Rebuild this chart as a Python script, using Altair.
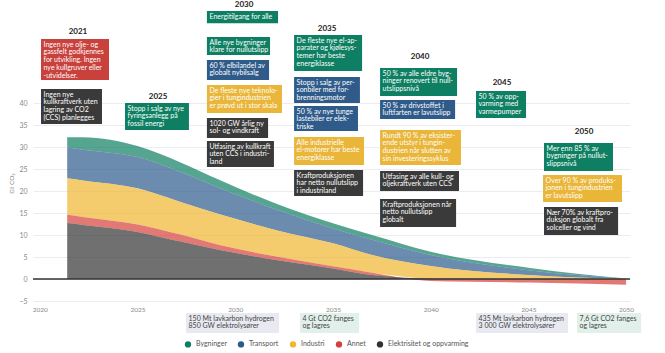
import altair as alt
import pandas as pd

# ---------------- data ----------------
years = [2021.4, 2022.2, 2025, 2027.2, 2029.2, 2032.1, 2035, 2037, 2040, 2045, 2050]
elektrisitet = [12.7, 12.3, 10.7, 8.5, 6.6, 4.3, 2.4, 0.9, 0.1, 0.0, 0.0]
annet = [1.9, 1.8, 1.7, 1.6, 1.1, 0.8, 0.5, 0.5, -0.45, -0.8, -1.3]
industri = [8.3, 8.3, 8.2, 7.4, 7.0, 6.0, 5.2, 4.05, 2.85, 0.9, 0.03]
transport = [7.0, 7.0, 7.1, 6.8, 6.0, 4.7, 3.4, 3.45, 2.5, 1.1, 0.04]
bygninger = [2.3, 2.8, 2.5, 2.2, 1.8, 1.3, 1.15, 1.1, 0.75, 0.55, 0.03]

sectors = ["Bygninger", "Transport", "Industri", "Annet", "Elektrisitet og oppvarming"]
sector_colors = ["#0e7f63", "#2c5a8d", "#f0b731", "#d6403a", "#333333"]
stack_order = {"Elektrisitet og oppvarming": 0, "Annet": 1, "Industri": 2,
               "Transport": 3, "Bygninger": 4}
series = {"Bygninger": bygninger, "Transport": transport, "Industri": industri,
          "Annet": annet, "Elektrisitet og oppvarming": elektrisitet}

x_ticks = [2020, 2025, 2030, 2035, 2040, 2045, 2050]
y_ticks = [-5, 0, 5, 10, 15, 20, 25, 30, 35, 40]

# milestone years (title, x, y)
milestone_years = ["2021", "2025", "2030", "2035", "2040", "2045", "2050"]
milestone_x = [2021.95, 2026.05, 2030.45, 2034.7, 2039.46, 2043.65, 2047.85]
milestone_y = [56.2, 41.43, 62.27, 56.82, 50.52, 44.48, 33.48]

# milestone boxes: (x1, y_top, x2, y_bottom, kind, text)
box_x1 = [2020.06, 2020.06, 2024.36,
          2028.55, 2028.55, 2028.55, 2028.55, 2028.55, 2028.55,
          2033.01, 2033.01, 2033.01, 2033.01, 2033.01,
          2037.41, 2037.41, 2037.41, 2037.41, 2037.41,
          2042.32, 2045.80, 2045.75, 2045.80,
          2027.48, 2033.31, 2042.32, 2047.49]
box_x2 = [2023.54, 2023.18, 2027.63,
          2032.19, 2031.78, 2031.73, 2032.39, 2031.68, 2031.98,
          2036.49, 2036.38, 2036.28, 2036.59, 2036.54,
          2041.35, 2041.25, 2041.55, 2041.45, 2041.30,
          2044.88, 2049.33, 2049.79, 2049.59,
          2032.24, 2036.33, 2047.03, 2050.77]
box_top = [54.55, 43.18, 40.0,
           60.91, 55.0, 49.77, 44.09, 36.59, 31.36,
           55.45, 45.91, 39.32, 32.27, 24.77,
           47.95, 40.68, 33.86, 24.55, 18.18,
           42.73, 30.91, 23.64, 16.36,
           -7.73, -7.73, -7.73, -7.73]
box_bottom = [45.23, 35.23, 33.86,
              58.11, 50.91, 45.23, 37.73, 32.05, 25.45,
              47.27, 40.0, 33.64, 25.91, 18.86,
              41.59, 36.36, 25.91, 20.0, 11.82,
              36.59, 24.55, 17.5, 10.0,
              -12.27, -12.27, -12.27, -12.27]
box_kind = ["red", "dark", "green",
            "green", "green", "blue", "yellow", "dark", "dark",
            "green", "blue", "blue", "yellow", "dark",
            "green", "blue", "yellow", "dark", "dark",
            "green", "green", "yellow", "dark",
            "h2", "ccs", "h2", "ccs"]
box_text = [
    "Ingen nye olje- og\ngassfelt godkjennes\nfor utvikling. Ingen\nnye kullgruver eller\n-utvidelser.",
    "Ingen nye\nkullkraftverk uten\nlagring av CO2\n(CCS) planlegges",
    "Stopp i salg av nye\nfyringsanlegg på\nfossil energi",
    "Energitilgang for alle",
    "Alle nye bygninger\nklare for nullutslipp",
    "60 % elbilandel av\nglobalt nybilsalg",
    "De fleste nye teknolo-\ngier i tungindustrien\ner prøvd ut i stor skala",
    "1020 GW årlig ny\nsol- og vindkraft",
    "Utfasing av kullkraft\nuten CCS i industri-\nland",
    "De fleste nye el-ap-\nparater og kjølesys-\ntemer har beste\nenergiklasse",
    "Stopp i salg av per-\nsonbiler med for-\nbrenningsmotor",
    "50 % av nye tunge\nlastebiler er elek-\ntriske",
    "Alle industrielle\nel-motorer har beste\nenergiklasse",
    "Kraftproduksjonen\nhar netto nullutslipp\ni industriland",
    "50 % av alle eldre byg-\nninger renovert til null-\nutslippsnivå",
    "50 % av drivstoffet i\nluftfarten er lavutslipp",
    "Rundt 90 % av eksister-\nende utstyr i tungin-\ndustrien når slutten av\nsin investeringssyklus",
    "Utfasing av alle kull- og\noljekraftverk uten CCS",
    "Kraftproduksjonen når\nnetto nullutslipp\nglobalt",
    "50 % av opp-\nvarming med\nvarmepumper",
    "Mer enn 85 % av\nbygninger på nullut-\nslippsnivå",
    "Over 90 % av produks-\njonen i tungindustrien\ner lavutslipp",
    "Nær 70% av kraftpro-\nduksjon globalt fra\nsolceller og vind",
    "150 Mt lavkarbon hydrogen\n850 GW elektrolysører",
    "4 Gt CO2 fanges\nog lagres",
    "435 Mt lavkarbon hydrogen\n3 000 GW elektrolysører",
    "7,6 Gt CO2 fanges\nog lagres",
]

box_fill = {"red": "#c8413c", "dark": "#3a3a3a", "green": "#0e7f62",
            "blue": "#2f5b8a", "yellow": "#e9b63a", "h2": "#e8e9f1", "ccs": "#e1f0ea"}
box_textcol = {"red": "#ffffff", "dark": "#ffffff", "green": "#ffffff",
               "blue": "#ffffff", "yellow": "#ffffff", "h2": "#444444", "ccs": "#444444"}

# ---------------- tables ----------------
rows = []
for s in sectors:
    for yr, v in zip(years, series[s]):
        rows.append({"year": yr, "sector": s, "value": v, "ord": stack_order[s]})
area_df = pd.DataFrame(rows)

boxes = pd.DataFrame({"x1": box_x1, "x2": box_x2, "yt": box_top, "yb": box_bottom,
                      "kind": box_kind, "text": box_text})
boxes["fill"] = boxes["kind"].map(box_fill)
boxes["tcol"] = boxes["kind"].map(box_textcol)
boxes["tx"] = boxes["x1"] + 0.13
boxes["ty"] = boxes["yt"] - 0.35

titles = pd.DataFrame({"label": milestone_years, "x": milestone_x, "y": milestone_y})

FONT = "Lato"
xscale = alt.Scale(domain=[2019.65, 2050.2], nice=False, zero=False)
yscale = alt.Scale(domain=[-5, 40], nice=False, zero=False)
xaxis = alt.Axis(values=x_ticks, format="d", title=None, grid=False,
                 domain=False, ticks=False, labelFontSize=6.5,
                 labelColor="#8a8a8a", labelPadding=5, labelFont=FONT,
                 labelOverlap=False, labelFlush=False)
yaxis = alt.Axis(values=y_ticks, title="Gt CO₂", grid=True, gridColor="#e6e7ee",
                 gridWidth=0.8, domain=False, ticks=False, labelFontSize=7,
                 labelColor="#8a8a8a", labelPadding=6, labelFont=FONT,
                 labelOverlap=False, labelFlush=False,
                 titleFontSize=6.5, titleColor="#8a8a8a", titleFontWeight="normal",
                 titleFont=FONT, titlePadding=4, titleY=80)

areas = alt.Chart(area_df).mark_area(opacity=0.7, interpolate="monotone").encode(
    x=alt.X("year:Q", scale=xscale, axis=xaxis),
    y=alt.Y("value:Q", stack="zero", scale=yscale, axis=yaxis),
    color=alt.Color("sector:N", scale=alt.Scale(domain=sectors, range=sector_colors),
                    sort=sectors,
                    legend=alt.Legend(orient="none", legendX=151, legendY=237,
                                      direction="horizontal", title=None,
                                      symbolType="circle", symbolSize=40,
                                      symbolOpacity=1, labelFontSize=7,
                                      labelColor="#555555", labelFont=FONT,
                                      columnPadding=10, labelOffset=4)),
    order=alt.Order("ord:Q"),
)

zero = alt.Chart(pd.DataFrame({"z": [0]})).mark_rule(color="#333333", strokeWidth=1.3).encode(
    y=alt.Y("z:Q", scale=yscale, axis=yaxis)
)

rects = alt.Chart(boxes).mark_rect().encode(
    x=alt.X("x1:Q", scale=xscale, axis=xaxis), x2="x2:Q",
    y=alt.Y("yt:Q", scale=yscale, axis=yaxis), y2="yb:Q",
    fill=alt.Fill("fill:N", scale=None),
)

texts = alt.Chart(boxes).mark_text(align="left", baseline="top", fontSize=7,
                                   lineHeight=7.8, lineBreak="\n", font=FONT).encode(
    x=alt.X("tx:Q", scale=xscale, axis=xaxis),
    y=alt.Y("ty:Q", scale=yscale, axis=yaxis),
    text="text:N",
    fill=alt.Fill("tcol:N", scale=None),
)

year_titles = alt.Chart(titles).mark_text(fontSize=8, fontWeight="bold", color="#222222",
                                          font=FONT, baseline="middle").encode(
    x=alt.X("x:Q", scale=xscale, axis=xaxis),
    y=alt.Y("y:Q", scale=yscale, axis=yaxis),
    text="label:N",
)

chart = alt.layer(areas, zero, rects, texts, year_titles).properties(
    width=597, height=198,
    autosize=alt.AutoSizeParams(type="none"),
    padding={"left": 33, "top": 103, "right": 35, "bottom": 52},
    background="white",
).configure_view(stroke=None)

chart.save("out.html", embed_options={"renderer": "svg", "actions": False})
